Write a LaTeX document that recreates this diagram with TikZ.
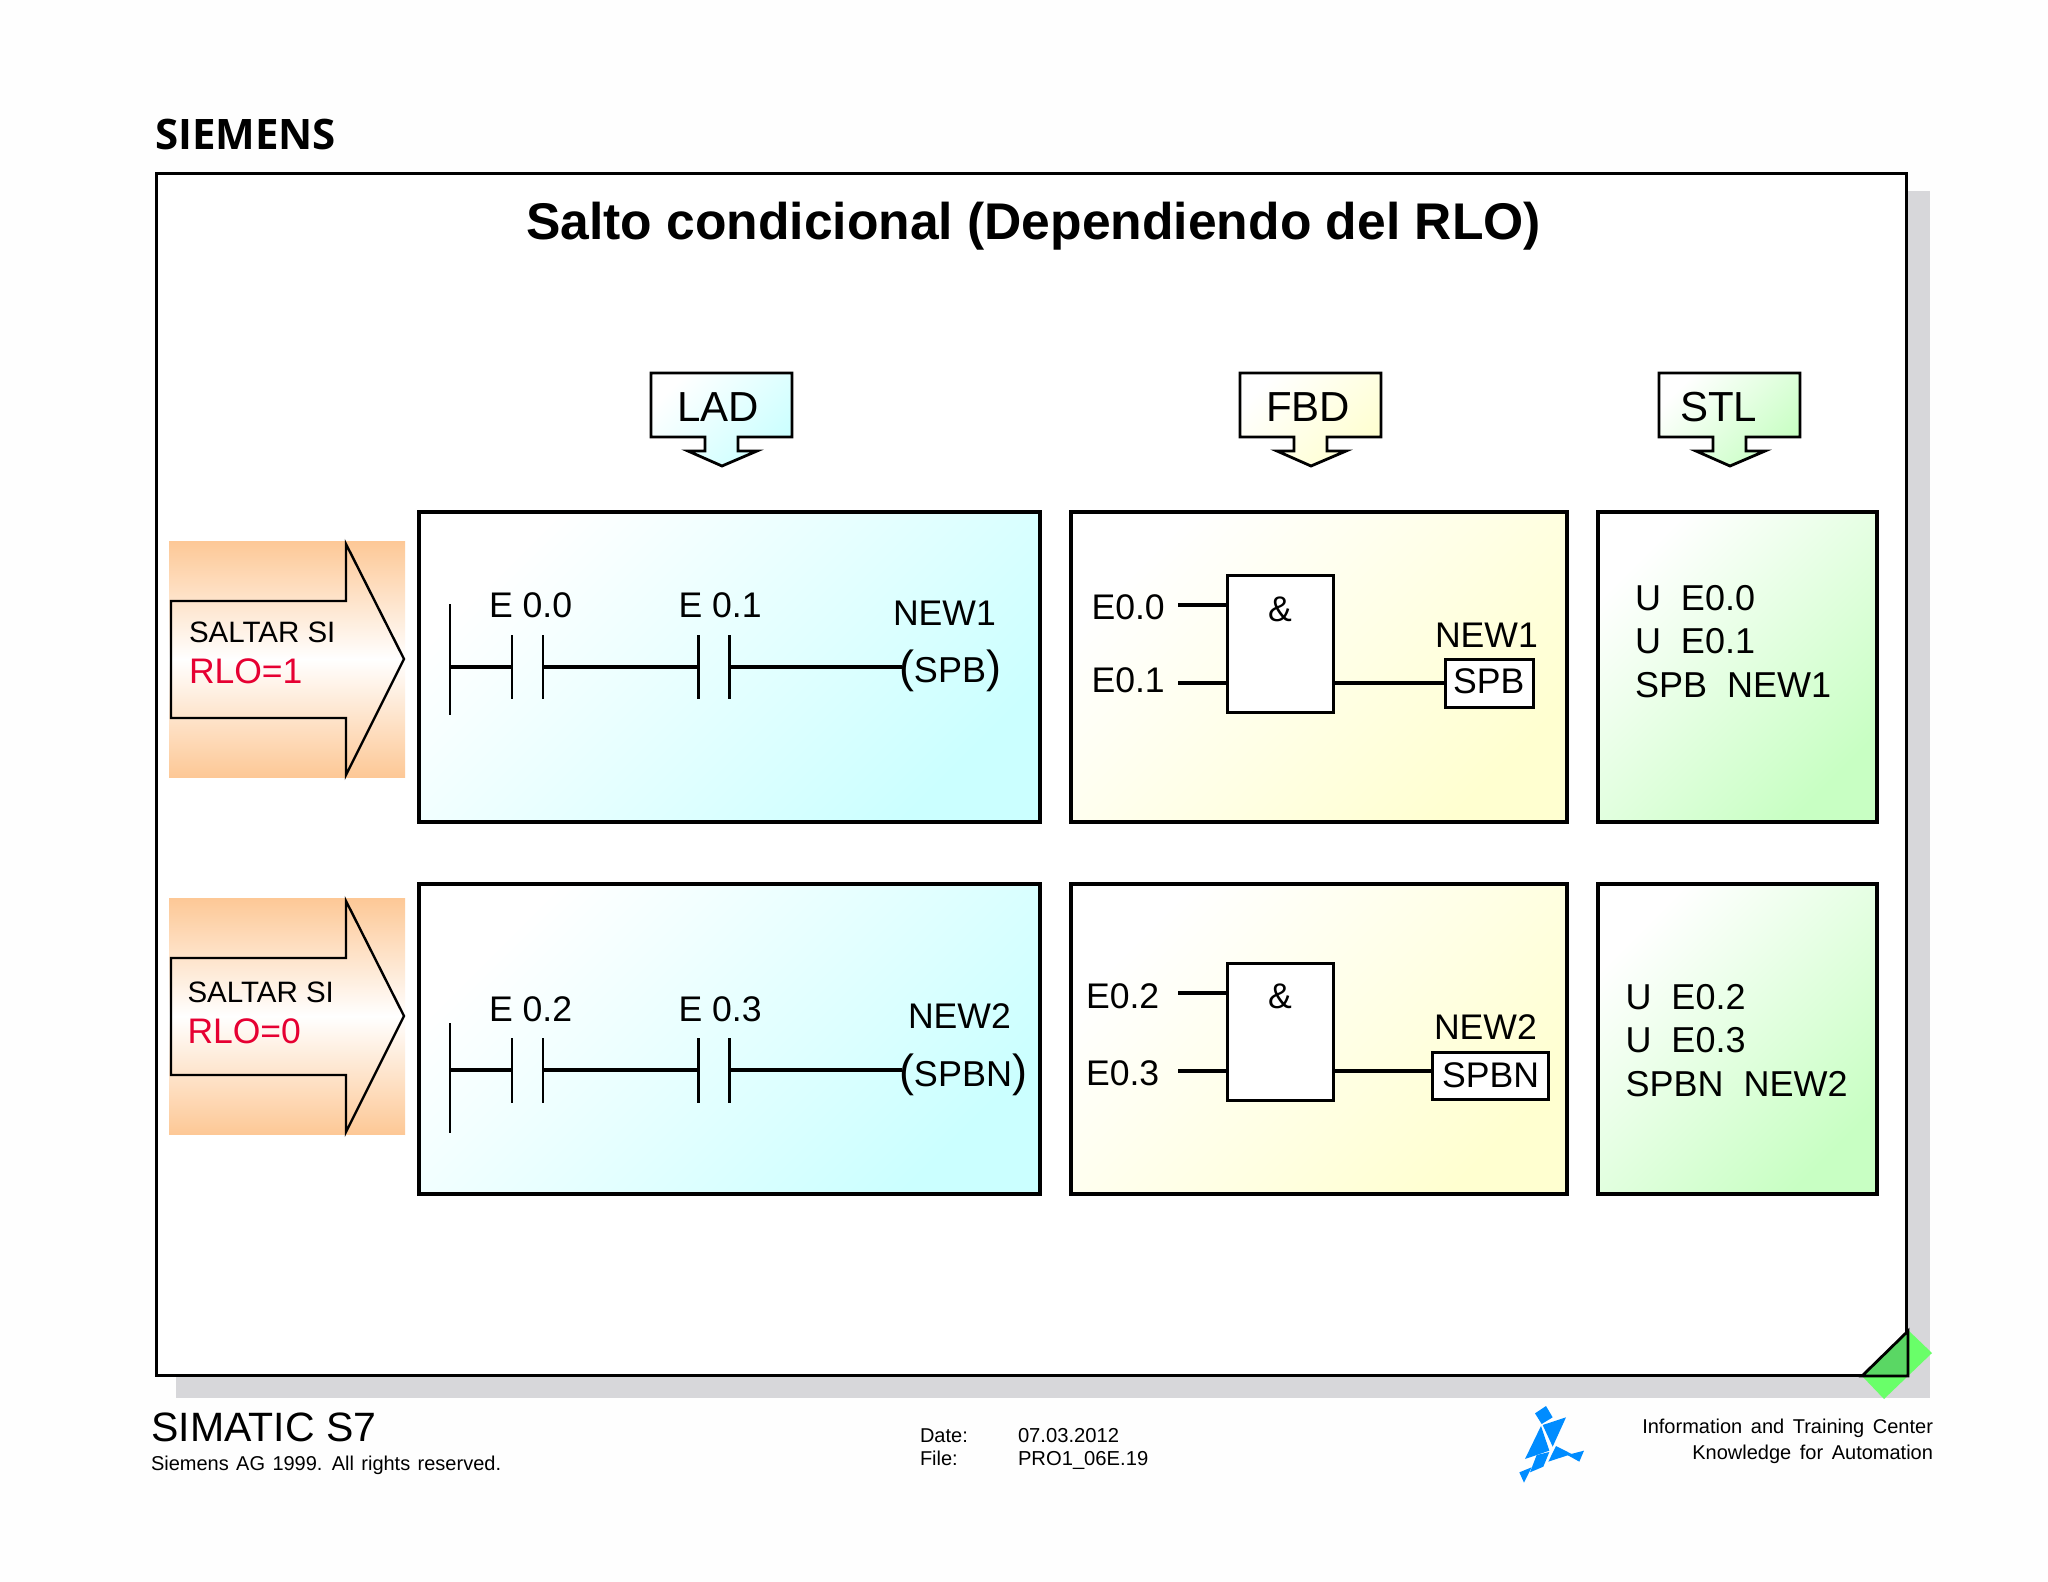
\documentclass[tikz,border=0pt]{standalone}
\usepackage{fontspec}
\setmainfont{Liberation Sans}
\newfontfamily\logofont{Open Sans}
\newcommand{\fsz}[1]{\fontsize{#1pt}{#1pt}\selectfont}
\definecolor{shadowgray}{RGB}{215,215,218}
\definecolor{cyanend}{RGB}{203,255,255}
\definecolor{yellowmid}{RGB}{255,255,222}
\definecolor{yellowend}{RGB}{255,255,208}
\definecolor{greenend}{RGB}{200,255,195}
\definecolor{orangeend}{RGB}{253,200,150}
\definecolor{rlored}{RGB}{230,0,50}
\definecolor{diamondgreen}{RGB}{105,255,105}
\definecolor{triangreen}{RGB}{90,215,100}
\definecolor{logoblue}{RGB}{0,140,255}
\tikzset{
  x=1pt,y=-1pt,
  txt/.style={inner sep=0pt,outer sep=0pt,anchor=base west,text=black},
  ctr/.style={inner sep=0pt,outer sep=0pt,anchor=base,font=\fsz{35.6}},
  lang/.style={txt,font=\fsz{42}},
  panel/.style={draw=black,line width=3.1pt,inner sep=0pt,outer sep=0pt,anchor=north west,shading angle=45},
  cyanfill/.style={top color=white,bottom color=cyanend,shading angle=45},
  yellowfill/.style={top color=white,middle color=yellowmid,bottom color=yellowend,shading angle=45},
  greenfill/.style={top color=white,bottom color=greenend,shading angle=45},
  callout/.style={draw=black,line width=2.8pt,line join=miter},
  wire/.style={draw=black,line width=3.2pt},
  bar/.style={draw=black,line width=2.6pt},
  gatebox/.style={draw=black,fill=white,line width=3pt,inner sep=0pt,outer sep=0pt,anchor=north west},
  coil/.style={draw=black,fill=white,line width=3pt,inner sep=0pt,outer sep=0pt,anchor=north west},
  bigarrow/.style={draw=black,line width=2.4pt,line join=miter},
  bandtop/.style={top color=orangeend,bottom color=white},
  bandbottom/.style={top color=white,bottom color=orangeend},
}
\begin{document}
\begin{tikzpicture}
\useasboundingbox (0,0) rectangle (2048,1582);
\fill[white!99.5!black] (0,0) rectangle (2048,1582);

% shadow, frame
\fill[shadowgray] (176,191) rectangle (1930,1398);
\node[draw=black,fill=white,line width=3pt,inner sep=0pt,outer sep=0pt,anchor=north west,minimum width=1750pt,minimum height=1202pt] (frame) at (156.5,173) {};

% header
\node[txt,font=\logofont\bfseries\fsz{42}] (logo) at (155,149) {SIEMENS};
\node[txt,font=\bfseries\fsz{51.6}] (title) at (526,239) {Salto condicional (Dependiendo del RLO)};

% callouts
\path[callout,cyanfill] (651,373) -- (792,373) -- (792,437) -- (738,437) -- (738,451) -- (757,451) -- (722,466) -- (688,451) -- (705,451) -- (705,437) -- (651,437) -- cycle;
\node[lang] (ladlab) at (677,421) {LAD};
\path[callout,yellowfill] (1240,373) -- (1381,373) -- (1381,437) -- (1327,437) -- (1327,451) -- (1346,451) -- (1311,466) -- (1277,451) -- (1294,451) -- (1294,437) -- (1240,437) -- cycle;
\node[lang] (fbdlab) at (1266,421) {FBD};
\path[callout,greenfill] (1659,373) -- (1800,373) -- (1800,437) -- (1746,437) -- (1746,451) -- (1765,451) -- (1730,466) -- (1696,451) -- (1713,451) -- (1713,437) -- (1659,437) -- cycle;
\node[lang] (stllab) at (1680,421) {STL};

% big arrows
\shade[bandtop] (169,541) rectangle (405,659.5);
\shade[bandbottom] (169,659) rectangle (405,777);
\draw[bigarrow] (171,601) -- (346,601) -- (346,544) -- (404,659) -- (346,775) -- (346,718) -- (171,718) -- cycle;
\node[txt,font=\fsz{29.5}] (salt1) at (189,642) {SALTAR SI};
\node[txt,font=\fsz{35.5},text=rlored] (rlo1) at (189,683) {RLO=1};
\shade[bandtop] (169,898) rectangle (405,1016.5);
\shade[bandbottom] (169,1016) rectangle (405,1134);
\draw[bigarrow] (171,958) -- (346,958) -- (346,901) -- (404,1016) -- (346,1132) -- (346,1075) -- (171,1075) -- cycle;
\node[txt,font=\fsz{29.5}] (salt2) at (187.5,1002) {SALTAR SI};
\node[txt,font=\fsz{35.5},text=rlored] (rlo2) at (187.5,1043) {RLO=0};

% panels
\node[panel,cyanfill,minimum width=621pt,minimum height=310pt] (lad1) at (419,512) {};
\node[panel,yellowfill,minimum width=496pt,minimum height=310pt] (fbd1) at (1071,512) {};
\node[panel,greenfill,minimum width=279pt,minimum height=310pt] (stl1) at (1598,512) {};
\node[panel,cyanfill,minimum width=621pt,minimum height=310pt] (lad2) at (419,884) {};
\node[panel,yellowfill,minimum width=496pt,minimum height=310pt] (fbd2) at (1071,884) {};
\node[panel,greenfill,minimum width=279pt,minimum height=310pt] (stl2) at (1598,884) {};

% LAD top
\coordinate (r1t) at (450,604); \coordinate (r1b) at (450,715);
\coordinate (c1r) at (450,667);
\coordinate (c1a) at (512,667); \coordinate (c1b) at (543,667);
\coordinate (c1c) at (698.5,667); \coordinate (c1d) at (729.5,667);
\coordinate (c1e) at (902,667);
\node[txt,font=\fsz{35.6}] (e00) at (489,617) {E 0.0};
\node[txt,font=\fsz{35.6}] (e01) at (678.5,617) {E 0.1};
\node[txt,font=\fsz{35.6}] (new1a) at (893,625) {NEW1};
\node[txt] (spb1a) at (899,682) {\fsz{45}(\fsz{36}SPB\fsz{45})};
\draw[bar] (r1t) -- (r1b);
\draw[bar] (512,635) -- (512,699) (543,635) -- (543,699) (698.5,635) -- (698.5,699) (729.5,635) -- (729.5,699);
\draw[wire] (c1r) -- (c1a) (c1b) -- (c1c) (c1d) -- (c1e);

% LAD bottom
\coordinate (r2t) at (450,1023); \coordinate (r2b) at (450,1133);
\coordinate (c2r) at (450,1070);
\coordinate (c2a) at (512,1070); \coordinate (c2b) at (543,1070);
\coordinate (c2c) at (698.5,1070); \coordinate (c2d) at (729.5,1070);
\coordinate (c2e) at (902,1070);
\node[txt,font=\fsz{35.6}] (e02) at (489,1021) {E 0.2};
\node[txt,font=\fsz{35.6}] (e03) at (678.5,1021) {E 0.3};
\node[txt,font=\fsz{35.6}] (new2a) at (908,1028) {NEW2};
\node[txt] (spbn2a) at (899,1086) {\fsz{45}(\fsz{36}SPBN\fsz{45})};
\draw[bar] (r2t) -- (r2b);
\draw[bar] (512,1038) -- (512,1103) (543,1038) -- (543,1103) (698.5,1038) -- (698.5,1103) (729.5,1038) -- (729.5,1103);
\draw[wire] (c2r) -- (c2a) (c2b) -- (c2c) (c2d) -- (c2e);

% FBD top
\node[gatebox,minimum width=106pt,minimum height=137pt] (and1) at (1227,575) {};
\node[ctr] (amp1) at (1280,621) {\&};
\node[txt,font=\fsz{35.6}] (i00) at (1091.5,619) {E0.0};
\node[txt,font=\fsz{35.6}] (i01) at (1091.5,692) {E0.1};
\node[coil,minimum width=88pt,minimum height=48pt] (spb1) at (1445,659) {};
\node[txt,font=\fsz{35.6}] (spb1t) at (1453,693) {SPB};
\node[txt,font=\fsz{35.6}] (new1b) at (1435,647) {NEW1};
\coordinate (s1) at (1178,605); \coordinate (s2) at (1178,683); \coordinate (o1) at (1400,683);
\draw[wire] (s1) -- (s1 -| and1.west) (s2) -- (s2 -| and1.west) (o1 -| and1.east) -- (o1 -| spb1.west);

% FBD bottom
\node[gatebox,minimum width=106pt,minimum height=137pt] (and2) at (1227,963) {};
\node[ctr] (amp2) at (1280,1008) {\&};
\node[txt,font=\fsz{35.6}] (i02) at (1086,1008) {E0.2};
\node[txt,font=\fsz{35.6}] (i03) at (1086,1085) {E0.3};
\node[coil,minimum width=116pt,minimum height=47pt] (spbn2) at (1432,1052) {};
\node[txt,font=\fsz{35.6}] (spbn2t) at (1442,1087) {SPBN};
\node[txt,font=\fsz{35.6}] (new2b) at (1434,1039) {NEW2};
\coordinate (s3) at (1178,993); \coordinate (s4) at (1178,1071); \coordinate (o2) at (1400,1071);
\draw[wire] (s3) -- (s3 -| and2.west) (s4) -- (s4 -| and2.west) (o2 -| and2.east) -- (o2 -| spbn2.west);

% STL
\node[txt,font=\fsz{36}] (st1) at (1635,610) {U\ \ E0.0};
\node[txt,font=\fsz{36}] (st2) at (1635,653) {U\ \ E0.1};
\node[txt,font=\fsz{36}] (st3) at (1635,697) {SPB\ \ NEW1};
\node[txt,font=\fsz{36}] (st4) at (1625.5,1009) {U\ \ E0.2};
\node[txt,font=\fsz{36}] (st5) at (1625.5,1052) {U\ \ E0.3};
\node[txt,font=\fsz{36}] (st6) at (1625.5,1096) {SPBN\ \ NEW2};

% corner diamond
\fill[diamondgreen] (1908,1330) -- (1932,1353) -- (1884,1399) -- (1862,1376) -- cycle;
\draw[fill=triangreen,line width=2.8pt,line join=miter] (1862,1376) -- (1908,1331) -- (1908,1376) -- cycle;

% footer
\node[txt,font=\fsz{41}] (simatic) at (151.5,1441) {SIMATIC S7};
\node[txt,font=\fsz{20}] (copy) at (151,1470) {\spaceskip=7.4pt Siemens AG 1999. All rights reserved.};
\node[txt,font=\fsz{20}] (date) at (920,1442) {Date:};
\node[txt,font=\fsz{20}] (file) at (920,1465) {File:};
\node[txt,font=\fsz{20.2}] (dateval) at (1018,1442) {07.03.2012};
\node[txt,font=\fsz{20.2}] (fileval) at (1018,1465) {PRO1\_06E.19};
\node[inner sep=0pt,outer sep=0pt,anchor=base east,font=\fsz{20}] (itc) at (1933,1433) {\spaceskip=8.6pt Information and Training Center};
\node[inner sep=0pt,outer sep=0pt,anchor=base east,font=\fsz{20}] (kfa) at (1933,1459) {\spaceskip=8.6pt Knowledge for Automation};

% tangram figure
\begin{scope}[shift={(1480,1300)},x=0.3333pt,y=-0.3333pt]
\fill[logoblue] (165,340) -- (198,318) -- (218,352) -- (185,372) -- cycle;
\fill[logoblue] (183,378) -- (135,477) -- (208,452) -- cycle;
\fill[logoblue] (188,375) -- (258,352) -- (218,440) -- cycle;
\fill[logoblue] (205,485) -- (228,438) -- (275,462) -- cycle;
\fill[logoblue] (262,465) -- (312,452) -- (298,485) -- cycle;
\fill[logoblue] (150,517) -- (170,465) -- (208,456) -- (190,500) -- cycle;
\fill[logoblue] (118,517) -- (155,502) -- (132,548) -- cycle;
\end{scope}
\end{tikzpicture}
\end{document}
